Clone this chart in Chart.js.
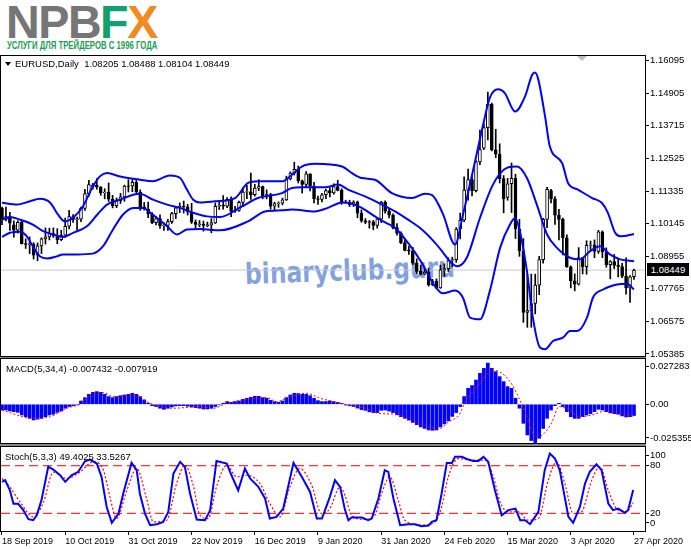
<!DOCTYPE html>
<html><head><meta charset="utf-8">
<script src="https://cdn.jsdelivr.net/npm/chart.js@4.4.1/dist/chart.umd.min.js"></script>
<style>
html,body{margin:0;padding:0;background:#fff;}
body{width:691px;height:549px;position:relative;overflow:hidden;font-family:"Liberation Sans",Arial,sans-serif;}
canvas{position:absolute;left:0;top:0;}
.t{position:absolute;white-space:nowrap;line-height:1;color:#000;}
.box{position:absolute;border:1px solid #000;box-sizing:border-box;}
</style></head><body>
<div class="box" style="left:0;top:55px;width:646px;height:302px;"></div>
<div style="position:absolute;left:0;top:357px;width:646px;height:1px;background:#888;"></div>
<div class="box" style="left:0;top:358px;width:646px;height:86px;"></div>
<div style="position:absolute;left:0;top:444px;width:646px;height:2px;background:#888;"></div>
<div class="box" style="left:0;top:446px;width:646px;height:86px;"></div>

<div class="t" id="logo" style="left:6px;top:-1px;font:bold 47px/46px 'Liberation Sans',Arial,sans-serif;letter-spacing:-1.5px;color:#767676;">NPB<span style="color:#12a06f">F</span><span style="color:#f28a24">X</span></div>
<div class="t" id="tag" style="left:7px;top:41px;font:bold 10px/10px 'Liberation Sans',Arial,sans-serif;color:#1d9c54;transform-origin:0 0;">УСЛУГИ ДЛЯ ТРЕЙДЕРОВ С 1996 ГОДА</div>

<div id="wm" class="t" style="left:245px;top:258px;font:bold 29px/32px 'DejaVu Sans',Verdana,sans-serif;color:rgba(95,135,215,0.78);transform-origin:0 50%;">binaryclub.guru</div>

<canvas id="cMain" width="691" height="549"></canvas>
<canvas id="cMacd" width="691" height="549"></canvas>
<canvas id="cStoch" width="691" height="549"></canvas>

<div style="position:absolute;left:5px;top:62px;width:0;height:0;border-left:3px solid transparent;border-right:3px solid transparent;border-top:4px solid #000;"></div>
<div class="t" style="left:15px;top:59px;font-size:9.5px;">EURUSD,Daily&nbsp; 1.08205 1.08488 1.08104 1.08449</div>
<div style="position:absolute;left:577px;top:56px;width:0;height:0;border-left:5px solid transparent;border-right:5px solid transparent;border-top:5px solid #bdbdbd;"></div>
<div class="t" style="left:6px;top:364px;font-size:9.5px;">MACD(5,34,4) -0.007432 -0.007919</div>
<div class="t" style="left:5px;top:452px;font-size:9.5px;">Stoch(5,3,3) 49.4025 33.5267</div>
<div class="t" id="plab" style="left:647px;top:263px;width:42px;height:13px;background:#000;color:#fff;font-size:9.5px;line-height:13px;text-align:center;"></div>

<script>
// ---------- DATA ----------
const dateIdx = [0,16,32,48,64,80,96,112,128,144,160];
const dateLabels = ['18 Sep 2019','10 Oct 2019','31 Oct 2019','22 Nov 2019','16 Dec 2019','9 Jan 2020','31 Jan 2020','24 Feb 2020','15 Mar 2020','3 Apr 2020','27 Apr 2020'];
const priceTicks = [1.16095,1.14905,1.13715,1.12525,1.11335,1.10145,1.08955,1.07765,1.06575,1.05385];
const macdTickPos = [0.0253,0,-0.0223];
const macdTickText = ['0.027283','0.00','-0.025355'];
const stochTickPos = [93.5,80,20,7.8];
const stochTickText = ['100','80','20','0'];
const stochLevels = [80,20];

const candleOpen = [1.1071,1.1030,1.1040,1.1010,1.0991,1.1019,1.0941,1.0939,1.0940,1.0899,
1.0933,1.0959,1.0966,1.0978,1.0971,1.0956,1.0972,1.1005,1.1040,1.1030,
1.1031,1.1070,1.1124,1.1150,1.1155,1.1148,1.1127,1.1130,1.1104,1.1080,
1.1098,1.1112,1.1152,1.1152,1.1165,1.1130,1.1076,1.1067,1.1050,1.1018,
1.1033,1.1007,1.1008,1.1022,1.1051,1.1072,1.1078,1.1076,1.1057,1.1020,
1.1012,1.1013,1.1008,1.1009,1.1017,1.1078,1.1081,1.1078,1.1103,1.1060,
1.1063,1.1092,1.1130,1.1131,1.1120,1.1144,1.1150,1.1113,1.1121,1.1078,
1.1088,1.1089,1.1101,1.1178,1.1199,1.1213,1.1171,1.1158,1.1196,1.1152,
1.1105,1.1103,1.1120,1.1135,1.1127,1.1150,1.1136,1.1091,1.1093,1.1083,
1.1093,1.1053,1.1025,1.1020,1.1021,1.1008,1.1031,1.1093,1.1060,1.1045,
1.1000,1.0980,1.0945,1.0917,1.0915,1.0870,1.0840,1.0830,1.0837,1.0792,
1.0805,1.0780,1.0846,1.0850,1.0880,1.0883,1.0995,1.1027,1.1137,1.1175,
1.1135,1.1240,1.1290,1.1365,1.1450,1.1284,1.1268,1.1179,1.1110,1.1160,
1.1180,1.0995,1.0915,1.0690,1.0697,1.0723,1.0790,1.0883,1.1030,1.1135,
1.1105,1.1045,1.1030,1.0963,1.0857,1.0806,1.0793,1.0891,1.0857,1.0935,
1.0937,1.0913,1.0985,1.0912,1.0865,1.0876,1.0862,1.0858,1.0823,1.0780,1.08205];
const candleHigh = [1.1075,1.1075,1.1056,1.1025,1.1025,1.1024,1.0959,1.0966,1.0945,1.0944,
1.0963,1.0999,1.0998,1.0999,1.0996,1.0990,1.1035,1.1063,1.1048,1.1038,
1.1075,1.1140,1.1173,1.1162,1.1179,1.1150,1.1142,1.1163,1.1118,1.1108,
1.1125,1.1155,1.1175,1.1175,1.1176,1.1138,1.1092,1.1093,1.1055,1.1040,
1.1047,1.1017,1.1030,1.1056,1.1075,1.1090,1.1097,1.1085,1.1089,1.1028,
1.1026,1.1024,1.1020,1.1033,1.1090,1.1096,1.1117,1.1110,1.1112,1.1078,
1.1097,1.1145,1.1154,1.1199,1.1158,1.1175,1.1152,1.1138,1.1125,1.1093,
1.1094,1.1108,1.1188,1.1204,1.1239,1.1225,1.1174,1.1205,1.1196,1.1165,
1.1115,1.1125,1.1141,1.1146,1.1160,1.1173,1.1142,1.1100,1.1100,1.1098,
1.1097,1.1065,1.1033,1.1026,1.1026,1.1036,1.1096,1.1098,1.1069,1.1050,
1.1015,1.0985,1.0956,1.0932,1.0928,1.0886,1.0863,1.0851,1.0852,1.0811,
1.0813,1.0863,1.0868,1.0890,1.0892,1.1000,1.1053,1.1185,1.1214,1.1189,
1.1245,1.1356,1.1380,1.1495,1.1455,1.1359,1.1306,1.1190,1.1180,1.1236,
1.1195,1.1030,1.0960,1.0830,1.0830,1.0830,1.0895,1.1034,1.1147,1.1140,
1.1113,1.1067,1.1035,1.0974,1.0860,1.0831,1.0927,1.0891,1.0952,1.0951,
1.0955,1.0990,1.0988,1.0926,1.0880,1.0902,1.0886,1.0870,1.0890,1.0825,1.08488];
const candleLow = [1.1011,1.1024,1.0990,1.0965,1.0980,1.0940,1.0924,1.0905,1.0885,1.0879,
1.0905,1.0940,1.0955,1.0964,1.0941,1.0952,1.0964,1.0995,1.1019,1.0991,
1.1022,1.1063,1.1115,1.1140,1.1140,1.1118,1.1105,1.1095,1.1072,1.1073,
1.1088,1.1096,1.1130,1.1131,1.1127,1.1063,1.1064,1.1036,1.1014,1.1010,
1.0997,1.0990,1.0990,1.1015,1.1033,1.1055,1.1053,1.1046,1.1015,1.0998,
1.1003,1.0987,1.1003,1.0981,1.1015,1.1066,1.1067,1.1073,1.1040,1.1055,
1.1059,1.1076,1.1106,1.1103,1.1115,1.1135,1.1105,1.1105,1.1067,1.1065,
1.1074,1.1083,1.1099,1.1174,1.1192,1.1163,1.1126,1.1147,1.1134,1.1090,
1.1085,1.1094,1.1106,1.1112,1.1122,1.1134,1.1085,1.1089,1.1077,1.1077,
1.1036,1.1019,1.1014,1.0998,1.0992,1.0998,1.1018,1.1053,1.1035,1.0995,
1.0972,1.0941,1.0915,1.0902,1.0865,1.0832,1.0827,1.0828,1.0786,1.0788,
1.0778,1.0778,1.0822,1.0840,1.0857,1.0873,1.0959,1.1022,1.1100,1.1116,
1.1130,1.1230,1.1285,1.1320,1.1280,1.1255,1.1163,1.1054,1.1100,1.1055,
1.0960,1.0895,1.0654,1.0636,1.0636,1.0685,1.0755,1.0870,1.1000,1.1090,
1.1012,1.0955,1.0900,1.0855,1.0780,1.0769,1.0790,1.0831,1.0830,1.0920,
1.0890,1.0906,1.0890,1.0855,1.0813,1.0850,1.0820,1.0817,1.0757,1.0727,1.08104];
const candleClose = [1.1030,1.1040,1.1016,1.0991,1.1019,1.0941,1.0939,1.0940,1.0899,1.0933,
1.0959,1.0966,1.0978,1.0971,1.0956,1.0972,1.1005,1.1040,1.1030,1.1031,
1.1070,1.1124,1.1157,1.1155,1.1148,1.1127,1.1130,1.1104,1.1080,1.1098,
1.1112,1.1152,1.1151,1.1165,1.1130,1.1076,1.1067,1.1050,1.1018,1.1033,
1.1007,1.1008,1.1022,1.1051,1.1072,1.1078,1.1076,1.1057,1.1020,1.1012,
1.1013,1.1008,1.1009,1.1017,1.1078,1.1081,1.1078,1.1103,1.1060,1.1063,
1.1092,1.1130,1.1131,1.1120,1.1144,1.1150,1.1113,1.1121,1.1078,1.1088,
1.1089,1.1101,1.1178,1.1199,1.1213,1.1171,1.1158,1.1196,1.1152,1.1105,
1.1103,1.1120,1.1135,1.1127,1.1150,1.1136,1.1091,1.1093,1.1083,1.1093,
1.1053,1.1025,1.1020,1.1021,1.1008,1.1031,1.1093,1.1060,1.1045,1.1000,
1.0980,1.0945,1.0917,1.0915,1.0870,1.0840,1.0830,1.0837,1.0792,1.0805,
1.0780,1.0846,1.0850,1.0880,1.0883,1.0995,1.1027,1.1137,1.1175,1.1135,
1.1240,1.1285,1.1365,1.1450,1.1284,1.1268,1.1179,1.1105,1.1160,1.1180,
1.0995,1.0915,1.0690,1.0697,1.0723,1.0790,1.0883,1.1030,1.1140,1.1105,
1.1045,1.1030,1.0963,1.0857,1.0806,1.0793,1.0891,1.0857,1.0935,1.0937,
1.0913,1.0985,1.0912,1.0865,1.0876,1.0862,1.0858,1.0823,1.0780,1.0820,1.08449];

const bbUpperX = [0,3.8,7.1,9.6,12.2,14.2,15.9,18.0,20.5,23.0,24.8,26.6,29.9,34.9,38.2,42.5,45.1,46.8,48.4,50.1,53.9,59.0,62.3,64.8,70.9,73.4,75.9,79.2,86.1,88.6,91.1,94.4,98.7,103.8,107.1,108.9,111.6,114.7,116.7,119.2,121.8,123.5,125.6,127.3,129.9,132.4,134.2,134.9,135.7,137.5,138.7,141.8,143.3,145.8,149.4,151.9,153.4,155.2,156.5,160];
const bbUpper = [1.1091,1.1084,1.1096,1.1105,1.1091,1.1047,1.1023,1.1036,1.1078,1.1150,1.1187,1.1199,1.1187,1.1175,1.1169,1.1190,1.1181,1.1139,1.1102,1.1092,1.1096,1.1108,1.1163,1.1169,1.1169,1.1193,1.1223,1.1233,1.1223,1.1199,1.1181,1.1175,1.1126,1.1108,1.1124,1.1119,1.1051,1.0938,1.1047,1.1205,1.1375,1.1474,1.1505,1.1491,1.1424,1.1478,1.1557,1.1566,1.1545,1.1405,1.1296,1.1236,1.1163,1.1139,1.1108,1.1090,1.1054,1.0982,1.0968,1.0977];
const bbMidX = [0,2.0,4.6,7.8,10.4,12.9,15.4,18.0,21.5,24.1,26.6,29.9,33.2,34.9,38.2,41.8,45.1,48.4,51.9,55.2,60.8,64.8,66.6,70.9,73.4,75.9,81.8,85.1,87.6,91.9,96.2,99.5,102.8,106.3,109.6,111.6,113.5,115.2,117.7,121.0,124.3,127.8,130.4,132.9,135.4,138.0,140.5,143.8,146.3,148.9,151.4,153.9,156.5,160];
const bbMid = [1.1029,1.1039,1.1029,1.1011,1.0987,1.0975,1.0966,1.0981,1.1005,1.1047,1.1084,1.1102,1.1120,1.1124,1.1102,1.1084,1.1072,1.1054,1.1041,1.1039,1.1078,1.1108,1.1114,1.1126,1.1145,1.1147,1.1147,1.1157,1.1139,1.1114,1.1084,1.1059,1.1029,1.0993,1.0945,1.0910,1.0875,1.0859,1.0891,1.1035,1.1157,1.1218,1.1223,1.1181,1.1084,1.0975,1.0926,1.0890,1.0884,1.0914,1.0932,1.0902,1.0884,1.0877];
const bbLowerX = [0,2.0,4.6,6.3,7.8,9.6,11.4,13.9,15.4,19.0,23.0,25.6,28.1,30.6,33.2,35.7,38.2,41.8,44.3,46.8,50.1,55.2,62.3,66.6,70.9,73.4,79.2,82.5,86.1,88.6,91.1,94.4,97.0,99.5,102.8,106.3,109.6,111.6,114.7,116.7,118.5,121.0,123.5,126.1,128.6,129.9,131.1,132.9,134.4,136.2,137.5,139.5,142.0,143.8,145.6,148.1,149.6,152.2,155.7,158.2,160];
const bbLower = [1.0966,1.0981,1.0985,1.0968,1.0932,1.0895,1.0887,1.0895,1.0902,1.0902,1.0905,1.0932,1.0993,1.1047,1.1072,1.1072,1.1047,1.1005,1.0975,1.0993,1.0995,1.0990,1.1023,1.1059,1.1063,1.1066,1.1059,1.1072,1.1092,1.1087,1.1072,1.1041,1.1019,1.0999,1.0944,1.0871,1.0786,1.0760,1.0770,1.0744,1.0671,1.0665,1.0768,1.0926,1.1011,1.1035,1.0987,1.0841,1.0671,1.0562,1.0556,1.0586,1.0598,1.0622,1.0622,1.0671,1.0744,1.0774,1.0792,1.0795,1.0774];

const macdHist = [-0.0038,-0.0038,-0.0044,-0.0049,-0.0053,-0.0071,-0.0082,-0.0093,-0.0104,-0.0099,
-0.0093,-0.0082,-0.0071,-0.0066,-0.0053,-0.0044,-0.0026,-0.0015,-0.0009,-0.0004,
0.0022,0.0044,0.0066,0.0079,0.0084,0.0079,0.0066,0.0051,0.0044,0.0051,
0.0057,0.0062,0.0066,0.0073,0.0066,0.0051,0.0029,0.0007,-0.0009,-0.0015,
-0.0026,-0.0033,-0.0026,-0.0018,-0.0011,-0.0009,-0.0009,-0.0013,-0.0018,-0.0022,
-0.0026,-0.0031,-0.0031,-0.0026,-0.0015,-0.0004,0.0007,0.0018,0.0013,0.0018,
0.0022,0.0033,0.0040,0.0046,0.0053,0.0053,0.0044,0.0040,0.0026,0.0018,
0.0013,0.0022,0.0044,0.0062,0.0073,0.0071,0.0066,0.0066,0.0057,0.0040,
0.0024,0.0018,0.0018,0.0022,0.0018,0.0013,0.0007,-0.0005,-0.0010,-0.0015,
-0.0025,-0.0035,-0.0040,-0.0050,-0.0055,-0.0055,-0.0040,-0.0038,-0.0045,-0.0055,
-0.0070,-0.0082,-0.0093,-0.0105,-0.0120,-0.0135,-0.0150,-0.0160,-0.0170,-0.0172,
-0.0170,-0.0150,-0.0130,-0.0110,-0.0080,-0.0055,-0.0015,0.0051,0.0106,0.0124,
0.0161,0.0205,0.0238,0.027283,0.0238,0.0216,0.0183,0.0150,0.0117,0.0106,
0.0040,-0.0026,-0.0126,-0.0203,-0.0240,-0.025355,-0.0225,-0.0160,-0.0093,-0.0038,
-0.0009,0.0007,-0.0015,-0.0049,-0.0082,-0.0093,-0.0093,-0.0082,-0.0071,-0.0062,
-0.0049,-0.0033,-0.0038,-0.0049,-0.0057,-0.0062,-0.0066,-0.0077,-0.0084,-0.0082,-0.007432];
const macdSignalX = [0,7.9,12.2,16.4,19.7,23.1,25.7,28.2,31.6,34.1,36.6,40.0,43.4,50.1,53.5,56.9,61.9,67.0,69.5,72.9,77.1,80.5,83.9,86.8,91.9,95.3,99.5,103.7,108.1,110.6,113.1,115.7,117.3,120.7,124.1,126.6,129.2,130.9,132.6,135.1,136.8,139.3,141.0,143.6,146.1,149.4,152.8,156.2,160];
const macdSignal = [-0.0038,-0.0093,-0.0082,-0.0026,0.0000,0.0073,0.0077,0.0051,0.0057,0.0062,0.0018,-0.0015,-0.0026,-0.0015,-0.0026,0.0007,0.0033,0.0044,0.0018,0.0051,0.0073,0.0040,0.0018,0.0000,-0.0026,-0.0060,-0.0066,-0.0104,-0.0148,-0.0163,-0.0115,-0.0071,0.0018,0.0128,0.0227,0.0205,0.0128,0.0040,-0.0060,-0.0214,-0.0203,-0.0115,-0.0015,-0.0038,-0.0082,-0.0071,-0.0044,-0.0060,-0.007919];

const stochMainX = [0,0.8,2.0,2.9,4.1,5.4,6.7,7.9,8.8,10.0,11.7,13.0,14.7,16.0,17.6,19.3,21.0,22.3,24.0,25.2,26.5,27.8,29.5,30.7,32.8,34.1,34.9,36.2,37.5,39.2,40.8,42.1,43.4,45.1,46.3,47.6,49.3,51.4,52.7,54.3,56.9,58.1,59.8,61.5,62.8,64.9,66.6,67.8,69.5,71.2,73.8,75.9,78.0,79.7,81.0,83.0,84.3,85.6,86.8,87.7,88.5,91.1,92.7,93.6,95.3,96.9,97.8,99.1,100.8,102.9,104.6,106.2,108.0,108.8,110.0,111.3,112.6,113.9,114.7,116.4,118.1,119.3,120.6,121.9,123.1,124.8,126.5,128.2,130.0,131.2,132.4,133.7,135.8,137.4,138.7,140.0,141.2,143.4,144.6,146.3,147.6,148.8,150.5,151.8,153.5,154.7,156.0,157.7,158.5,159.8];
const stochMain = [59.7,61.8,49,32,32,24,12.6,11.3,17.6,36.6,78.6,75.2,68,59.7,68,72.3,85.7,87.8,82.8,66,28,8,19.7,45,83.6,74.4,45,19.7,5,6.3,9.2,21.8,70.2,84.9,78.6,45,12.2,11.3,24,86.1,82.8,68,49,76.5,63.9,53.4,38.7,13.4,15.5,26,83.6,66,47,13.4,13.4,40.8,61.8,53.4,25,11.3,14.7,14.7,11.3,13.4,38.7,74.4,72.3,38.7,5,6.3,6.3,3.8,4.6,9.2,11.3,45,83.6,83.6,91.2,91.2,87.8,86.1,86.1,91.2,84.9,49,17.6,24,26,11.3,11.3,6.3,21.8,74.4,95.4,89,74.4,15.5,8,28,57.6,72.3,81.9,74.4,32.4,24,26,20.6,24,49.4025];
const stochSignalX = [0,2.0,4.6,7.9,10.5,13.0,16.4,19.7,23.1,25.7,27.3,29.0,31.6,34.1,36.6,38.3,41.7,44.2,46.3,48.4,50.1,52.2,54.3,56.9,59.4,61.9,65.3,67.8,70.4,72.9,75.4,78.4,80.9,83.0,85.6,86.8,88.5,91.9,94.4,96.1,98.2,100.3,102.0,106.2,109.6,111.3,113.0,115.5,118.9,122.3,124.4,126.1,128.2,130.7,133.2,135.8,138.3,140.4,142.5,144.6,146.7,149.3,151.4,153.5,155.6,158.1,159.8];
const stochSignal = [63.9,53,34,15.5,34,72,64,72,85,74,41,13.4,49,76.5,38.7,9.2,11.3,57.6,80.7,55.5,17.6,13.4,53.4,80.7,66,68,57.6,32.4,15.5,53.4,76.5,55.5,19.7,26,53.4,42.9,17.6,12.2,17.6,45,66,36.6,11.3,5,9.2,28,66,89,87,87,66,34.5,21.8,21.8,11.3,13.4,61.8,84.9,57.6,19.7,21.8,61.8,78.6,49,26,21.8,33.5267];

// ---------- CHARTS ----------
const FONT = '"Liberation Sans", Arial, sans-serif';
const xMin = -0.253, xMax = 162.79;
const N = candleClose.length;
const lastPrice = candleClose[N-1];
document.getElementById('plab').textContent = lastPrice.toFixed(5);

function pts(xs, ys){ return xs.map((x,i)=>({x:x, y:ys[i]})); }
function yAxis(min, max, vals, texts){
  return {type:'linear', position:'right', min:min, max:max,
    afterFit(a){ a.width = 46; },
    afterBuildTicks(a){ a.ticks = vals.map(v=>({value:v})); },
    ticks:{autoSkip:false, padding:1, color:'#000', font:{family:FONT, size:9.5}, callback:(v,i)=>texts[i]},
    grid:{drawOnChartArea:false, drawTicks:true, tickLength:4, color:'#000', tickColor:'#000'},
    border:{display:false}};
}
const base = {responsive:false, animation:false, devicePixelRatio:1, events:[],
  plugins:{legend:{display:false}, tooltip:{enabled:false}}};

const wick=[], bull=[], bear=[];
for(let i=0;i<N;i++){
  const o=candleOpen[i], c=candleClose[i];
  let lo=Math.min(o,c), hi=Math.max(o,c);
  if(hi-lo<0.0003){ const m=(hi+lo)/2; lo=m-0.00015; hi=m+0.00015; }
  wick.push({x:i, y:[candleLow[i], candleHigh[i]]});
  (c>=o?bull:bear).push({x:i, y:[lo,hi]});
}
const line = (data,color,w,order,extra)=>Object.assign({type:'line', data, borderColor:color, borderWidth:w, pointRadius:0, fill:false, order}, extra||{});
const pMin = 1.05275, pMax = 1.16303;
new Chart(document.getElementById('cMain'), {
  type:'bar',
  data:{datasets:[
    line(pts(bbUpperX,bbUpper),'#0000ff',2,0,{cubicInterpolationMode:'monotone'}),
    line(pts(bbMidX,bbMid),'#0000ff',2,0,{cubicInterpolationMode:'monotone'}),
    line(pts(bbLowerX,bbLower),'#0000ff',2,0,{cubicInterpolationMode:'monotone'}),
    {type:'bar', data:bull, backgroundColor:'#fff', borderColor:'#000', borderWidth:1, borderSkipped:false, barThickness:3, grouped:false, order:2},
    {type:'bar', data:bear, backgroundColor:'#000', borderColor:'#000', borderWidth:1, borderSkipped:false, barThickness:3, grouped:false, order:2},
    {type:'bar', data:wick, backgroundColor:'#000', borderWidth:0, barThickness:1, grouped:false, order:3},
    line([{x:xMin,y:lastPrice},{x:xMax,y:lastPrice}],'#c8c8c8',1,5)
  ]},
  options:Object.assign({}, base, {
    layout:{padding:{left:1, top:55, right:0, bottom:192}},
    scales:{x:{type:'linear', min:xMin, max:xMax, display:false, offset:false},
            y:yAxis(pMin,pMax,priceTicks,priceTicks.map(v=>v.toFixed(5)))}
  })
});

new Chart(document.getElementById('cMacd'), {
  type:'bar',
  data:{datasets:[
    line(pts(macdSignalX,macdSignal),'#ff0000',1,0,{borderDash:[2,2], cubicInterpolationMode:'monotone'}),
    {type:'bar', data:macdHist.map((v,i)=>({x:i,y:v})), backgroundColor:'#0000ff', barThickness:3, grouped:false, order:1}
  ]},
  options:Object.assign({}, base, {
    layout:{padding:{left:1, top:358, right:0, bottom:106}},
    scales:{x:{type:'linear', min:xMin, max:xMax, display:false, offset:false},
            y:yAxis(-0.02563,0.03066,macdTickPos,macdTickText)}
  })
});

new Chart(document.getElementById('cStoch'), {
  type:'line',
  data:{datasets:[
    line(pts(stochMainX,stochMain),'#0000ff',2,0),
    line(pts(stochSignalX,stochSignal),'#ff0000',1.2,1,{borderDash:[2,2], cubicInterpolationMode:'monotone'}),
    line([{x:xMin,y:stochLevels[0]},{x:xMax,y:stochLevels[0]}],'#ff0000',1,2,{borderDash:[9,5]}),
    line([{x:xMin,y:stochLevels[1]},{x:xMax,y:stochLevels[1]}],'#ff0000',1,2,{borderDash:[9,5]})
  ]},
  options:Object.assign({}, base, {
    layout:{padding:{left:1, top:446, right:0, bottom:0}},
    scales:{
      x:{type:'linear', min:xMin, max:xMax, position:'bottom', offset:false,
         afterFit(a){ a.height = 18; },
         afterBuildTicks(a){ a.ticks = dateIdx.map(v=>({value:v})); },
         ticks:{autoSkip:false, align:'start', maxRotation:0, padding:1, color:'#000', font:{family:FONT, size:9}, callback:(v,i)=>dateLabels[i]},
         grid:{drawOnChartArea:false, drawTicks:true, tickLength:4, color:'#000', tickColor:'#000'},
         border:{display:false}},
      y:yAxis(-2.3,104.9,stochTickPos,stochTickText)
    }
  })
});

const tag=document.getElementById('tag'); tag.style.transform='scaleX('+(150/tag.offsetWidth)+')';
const logo=document.getElementById('logo'); logo.style.transform='scaleX('+(151/logo.offsetWidth)+')'; logo.style.transformOrigin='0 0';
const wm=document.getElementById('wm'); wm.style.transform='rotate(-2deg) scaleX('+(210/wm.offsetWidth)+')';
</script>
</body></html>
